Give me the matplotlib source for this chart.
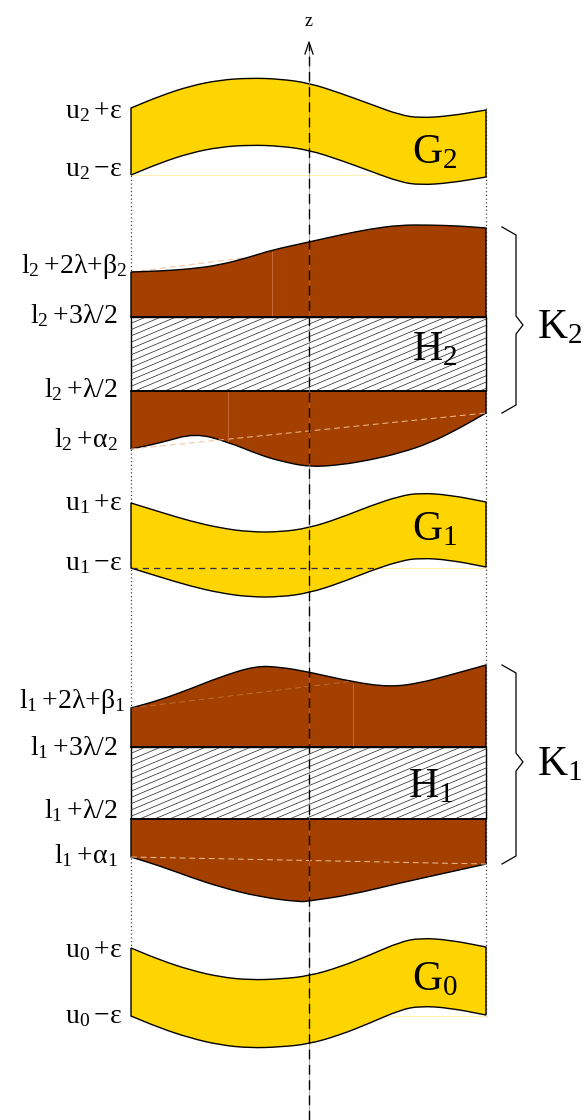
import numpy as np
import matplotlib.pyplot as plt
from matplotlib.patches import PathPatch, Rectangle
from matplotlib.path import Path

plt.rcParams['mathtext.fontset'] = 'custom'
plt.rcParams['mathtext.rm'] = 'Liberation Serif'
plt.rcParams['mathtext.it'] = 'Liberation Serif:italic'
plt.rcParams['font.family'] = ['Liberation Serif', 'DejaVu Serif']

YELLOW = '#FFD500'
BROWN = '#A34000'
CHORD = '#F2BE9C'

# band edges (pixel coordinates, y grows downward)
x_left, x_right, x_axis = 131, 486, 309

# G bands: top boundary, bottom boundary is the top shifted by the band width
g_x = [131, 160, 190, 220, 250, 280, 309, 340, 370, 400, 420, 450, 486]
g2_top = [108, 96, 86, 80, 78, 79, 83, 93, 104, 115, 118, 116, 110]
g1_top = [503, 512, 521, 528, 532, 532, 528, 518, 506, 496, 493, 495, 502]
g0_top = [948, 960, 970, 977, 980, 979, 976, 967, 955, 942, 938, 940, 947]
g_width = [67, 65, 68]

# K blocks: outer curves and the hatched H strip
k2_top_x = [131, 160, 190, 220, 250, 272, 309, 340, 370, 400, 430, 460, 486]
k2_top_y = [272, 271, 269, 265, 257, 250, 242, 235, 229, 225, 225, 226, 228]
k2_bot_x = [131, 160, 195, 228, 260, 280, 309, 340, 370, 400, 430, 460, 486]
k2_bot_y = [449, 443, 433, 442, 455, 461, 467, 465, 460, 453, 443, 428, 413]
k2_h = [317, 391]

k1_top_x = [131, 160, 190, 220, 255, 280, 309, 353, 390, 420, 450, 486]
k1_top_y = [708, 700, 689, 677, 666, 667, 672, 682, 687, 683, 675, 665]
k1_bot_x = [131, 160, 190, 220, 260, 300, 309, 350, 400, 450, 486]
k1_bot_y = [857, 866, 877, 887, 897, 902, 901, 895, 883, 872, 864]
k1_h = [747, 819]

# left labels: text, right edge x, baseline y
left_labels = [
    (r'$\mathrm{u_2\:{+}ε}$', 123, 118),
    (r'$\mathrm{u_2\:{-}ε}$', 123, 176),
    (r'$\mathrm{l_2\:{+}2λ{+}β_2}$', 127, 273),
    (r'$\mathrm{l_2\:{+}3λ/2}$', 118, 323),
    (r'$\mathrm{l_2\:{+}λ/2}$', 118, 397),
    (r'$\mathrm{l_2\:{+}α_2}$', 118, 447),
    (r'$\mathrm{u_1\:{+}ε}$', 123, 510),
    (r'$\mathrm{u_1\:{-}ε}$', 123, 570),
    (r'$\mathrm{l_1\:{+}2λ{+}β_1}$', 125, 708),
    (r'$\mathrm{l_1\:{+}3λ/2}$', 118, 755),
    (r'$\mathrm{l_1\:{+}λ/2}$', 118, 818),
    (r'$\mathrm{l_1\:{+}α_1}$', 118, 863),
    (r'$\mathrm{u_0\:{+}ε}$', 123, 957),
    (r'$\mathrm{u_0\:{-}ε}$', 123, 1023),
]
big_labels = [
    (r'$\mathrm{G_2}$', 412, 163),
    (r'$\mathrm{H_2}$', 412, 360),
    (r'$\mathrm{K_2}$', 537, 338),
    (r'$\mathrm{G_1}$', 412, 540),
    (r'$\mathrm{H_1}$', 408, 797),
    (r'$\mathrm{K_1}$', 537, 775),
    (r'$\mathrm{G_0}$', 412, 990),
]
braces = [(227, 413, 325), (665, 864, 762)]

fig = plt.figure(figsize=(5.85, 11.2), dpi=100)
ax = fig.add_axes([0, 0, 1, 1])
ax.set_xlim(0, 585)
ax.set_ylim(1120, 0)
ax.axis('off')


def smooth(pts):
    """quadratic-bezier pieces through the midpoints of the read points"""
    pts = [tuple(map(float, p)) for p in pts]
    verts, codes = [pts[0]], [Path.LINETO]
    mid = lambda a, b: ((a[0] + b[0]) / 2, (a[1] + b[1]) / 2)
    verts.append(mid(pts[0], pts[1]))
    codes.append(Path.LINETO)
    for i in range(1, len(pts) - 1):
        verts += [pts[i], mid(pts[i], pts[i + 1])]
        codes += [Path.CURVE3, Path.CURVE3]
    verts.append(pts[-1])
    codes.append(Path.LINETO)
    return verts, codes


def shape(*pieces):
    verts, codes = [], []
    for v, c in pieces:
        verts += v
        codes += c
    codes[0] = Path.MOVETO
    verts.append(verts[0])
    codes.append(Path.CLOSEPOLY)
    return Path(verts, codes)


def straight(pts):
    return [tuple(map(float, p)) for p in pts], [Path.LINETO] * len(pts)


# dotted guide lines at both ends
for xv in (x_left, x_right):
    ax.plot([xv, xv], [108, 1017], ls=(0, (1, 2)), color='#444444', lw=0.9, zorder=1)


def g_band(top, width):
    top = np.asarray(top, float)
    bot = top + width
    top_pts = list(zip(g_x, top))
    bot_pts = list(zip(g_x[::-1], bot[::-1]))
    path = shape(smooth(top_pts), smooth(bot_pts))
    patch = PathPatch(path, facecolor=YELLOW, edgecolor='black', lw=1.0, zorder=2)
    ax.add_patch(patch)
    # faint leftover line at the band's lower-left level
    ax.plot([x_left, x_right], [bot[0], bot[0]], color='#FFF1B0', lw=0.8, zorder=1.5)
    return patch, bot[0]


def hatch_strip(y0, y1):
    rect = Rectangle((x_left, y0), x_right - x_left, y1 - y0, facecolor='white',
                     edgecolor='black', lw=1.0, zorder=2)
    ax.add_patch(rect)
    slope = 0.42
    spacing = 6.3
    span = (x_right - x_left) * slope
    for c in np.arange(y0, y1 + span + spacing, spacing):
        ln, = ax.plot([x_left, x_right], [c, c - span], color='#333333', lw=0.55, zorder=2.1)
        ln.set_clip_path(rect)
    ax.plot([x_left, x_right], [y0, y0], color='black', lw=1.2, zorder=2.2)
    ax.plot([x_left, x_right], [y1, y1], color='black', lw=1.2, zorder=2.2)


def brown_upper(xs, ys, yh, seam_x, clip_chord=False):
    path = shape(smooth(list(zip(xs, ys))), straight([(x_right, yh), (x_left, yh)]))
    patch = PathPatch(path, facecolor=BROWN, edgecolor='black', lw=1.0, zorder=2)
    ax.add_patch(patch)
    ln, = ax.plot([xs[0], xs[-1]], [ys[0], ys[-1]], color=CHORD, lw=0.7,
                  ls=(0, (6, 4)), zorder=2.05 if clip_chord else 1.8,
                  alpha=0.35 if clip_chord else 1.0)
    if clip_chord:
        ln.set_clip_path(patch)
    if seam_x is not None:
        ys_at = np.interp(seam_x, xs, ys)
        ax.plot([seam_x, seam_x], [ys_at + 1.5, yh - 1], color='#C8693A', lw=0.7, zorder=2.05)


def brown_lower(xs, ys, yh, seam_x):
    path = shape(straight([(x_left, yh), (x_right, yh)]),
                 smooth(list(zip(xs[::-1], ys[::-1]))))
    patch = PathPatch(path, facecolor=BROWN, edgecolor='black', lw=1.0, zorder=2)
    ax.add_patch(patch)
    ax.plot([xs[0], xs[-1]], [ys[0], ys[-1]], color=CHORD, lw=0.7, ls=(0, (6, 4)), zorder=2.05)
    if seam_x is not None:
        ys_at = np.interp(seam_x, xs, ys)
        ax.plot([seam_x, seam_x], [yh + 1, ys_at - 1.5], color='#C8693A', lw=0.7, zorder=2.05)


g_band(g2_top, g_width[0])
g1_patch, g1_bot = g_band(g1_top, g_width[1])
g_band(g0_top, g_width[2])

# dashed reference line inside G1
ln, = ax.plot([x_left, x_right], [g1_bot, g1_bot], color='#2A2A55', lw=0.9,
              ls=(0, (5, 4)), zorder=2.5)
ln.set_clip_path(g1_patch)

brown_upper(k2_top_x, k2_top_y, k2_h[0], 272)
hatch_strip(*k2_h)
brown_lower(k2_bot_x, k2_bot_y, k2_h[1], 228)

brown_upper(k1_top_x, k1_top_y, k1_h[0], 353, clip_chord=True)
hatch_strip(*k1_h)
brown_lower(k1_bot_x, k1_bot_y, k1_h[1], None)

# braces
for top, bot, mid in braces:
    bx = [502, 516, 516, 523, 516, 516, 502]
    by = [top, top + 8, mid - 9, mid, mid + 9, bot - 8, bot]
    ax.plot(bx, by, color='black', lw=0.9, zorder=3, solid_joinstyle='round')

# z axis
ax.plot([x_axis, x_axis], [1120, 44], color='#7070FF', lw=0.5, zorder=4)
ax.plot([x_axis, x_axis], [1120, 44], color='black', lw=1.0, ls=(0, (7, 4)), zorder=4.1)
ax.plot([x_axis - 4, x_axis, x_axis + 4], [54, 42, 54], color='black', lw=0.9, zorder=4.2)
ax.text(x_axis, 26, 'z', ha='center', va='baseline', fontsize=13, zorder=5)

for txt, xr, yb in left_labels:
    ax.text(xr, yb, txt, ha='right', va='baseline', fontsize=20, zorder=5)
for txt, xl, yb in big_labels:
    ax.text(xl, yb, txt, ha='left', va='baseline', fontsize=30, zorder=5)

fig.savefig('out.png', dpi=100)
